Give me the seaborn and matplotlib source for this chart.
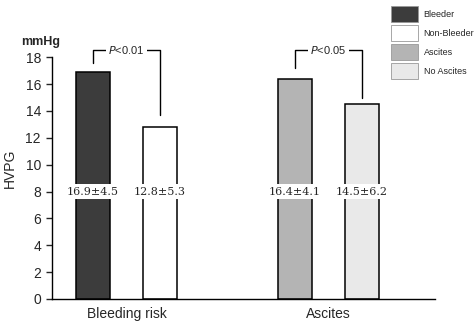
import numpy as np
import pandas as pd
import matplotlib
matplotlib.use("Agg")
import matplotlib.pyplot as plt
from matplotlib.patches import Patch
import seaborn as sns

# data
CATEGORIES = ["Bleeding risk", "Ascites"]
GROUPS_BLEED = ["Bleeder", "Non-Bleeder"]
GROUPS_ASC = ["Ascites", "No Ascites"]
MEANS_BLEED = [16.9, 12.8]
SDS_BLEED = [4.5, 5.3]
MEANS_ASC = [16.4, 14.5]
SDS_ASC = [4.1, 6.2]
P_LABELS = ["P<0.01", "P<0.05"]
Y_TICKS = [0, 2, 4, 6, 8, 10, 12, 14, 16, 18]

COLORS = {"Bleeder": "#3c3c3c", "Non-Bleeder": "#ffffff",
          "Ascites": "#b4b4b4", "No Ascites": "#e9e9e9"}

sns.set_style("white")
plt.rcParams["font.family"] = ["Liberation Sans", "DejaVu Sans"]

fig = plt.figure(figsize=(4.74, 3.24), dpi=100)
ax = fig.add_axes([0.1097, 0.0772, 0.808, 0.8086])

df_bleed = pd.DataFrame({"category": CATEGORIES[0], "group": GROUPS_BLEED, "value": MEANS_BLEED})
df_asc = pd.DataFrame({"category": CATEGORIES[1], "group": GROUPS_ASC, "value": MEANS_ASC})

W = 0.664
GAP = 0.494
for d, groups in [(df_bleed, GROUPS_BLEED), (df_asc, GROUPS_ASC)]:
    sns.barplot(data=d, x="category", y="value", hue="group", order=CATEGORIES,
                hue_order=groups, palette=[COLORS[g] for g in groups],
                width=W, gap=GAP, dodge=True, edgecolor="black", linewidth=1.1,
                errorbar=None, legend=False, ax=ax)

# value labels at y=8
off = W / 4
for ci, (means, sds) in enumerate([(MEANS_BLEED, SDS_BLEED), (MEANS_ASC, SDS_ASC)]):
    for j, (m, s) in enumerate(zip(means, sds)):
        x = ci + (-off if j == 0 else off)
        ax.text(x, 8, f"{m}\u00b1{s}", ha="center", va="center", fontsize=8,
                family=["DejaVu Serif"],
                bbox=dict(facecolor="white", edgecolor="none", pad=1.5))

# significance brackets
leg_low = [(17.6, 13.7), (17.2, 14.95)]
for ci, lab in enumerate(P_LABELS):
    x0, x1 = ci - off, ci + off
    y = 18.5
    ax.plot([x0, x0, x1, x1], [leg_low[ci][0], y, y, leg_low[ci][1]],
            color="black", lw=1.0, clip_on=False)
    ax.text((x0 + x1) / 2, y, f"$\\it{{P}}${lab[1:]}", ha="center", va="center",
            fontsize=8, bbox=dict(facecolor="white", edgecolor="none", pad=1.5))

ax.set_ylim(0, 19.5)
ax.set_xlim(-0.369, 1.527)
ax.set_yticks(Y_TICKS)
ax.set_yticklabels([str(t) for t in Y_TICKS], fontsize=10)
ax.set_xticks([0, 1])
ax.set_xticklabels(CATEGORIES, fontsize=10)
ax.set_xticks([1.525], minor=True)
ax.tick_params(axis="x", which="major", length=0, pad=6)
ax.tick_params(axis="x", which="minor", direction="in", length=5, width=1)
ax.tick_params(axis="y", length=4, width=1, direction="out", left=True, pad=4)
for sp in ["top", "right"]:
    ax.spines[sp].set_visible(False)
ax.spines["left"].set_bounds(0, 18)
ax.spines["left"].set_linewidth(1)
ax.spines["bottom"].set_linewidth(1)
ax.spines["left"].set_color("black")
ax.spines["bottom"].set_color("black")
ax.set_xlabel("")
ax.set_ylabel("HVPG", fontsize=10, labelpad=6)
fig.text(0.044, 0.862, "mmHg", fontsize=9, fontweight="bold", va="baseline")

handles = [Patch(facecolor=COLORS[g], edgecolor="#999999", linewidth=0.6)
           for g in GROUPS_BLEED + GROUPS_ASC]
fig.legend(handles, GROUPS_BLEED + GROUPS_ASC, loc="upper left",
           bbox_to_anchor=(0.812, 1.0), frameon=False, fontsize=6.5,
           handlelength=3.0, handleheight=2.3, labelspacing=0.35,
           handletextpad=0.6, borderpad=0.2)

fig.savefig("out.png", dpi=100)
